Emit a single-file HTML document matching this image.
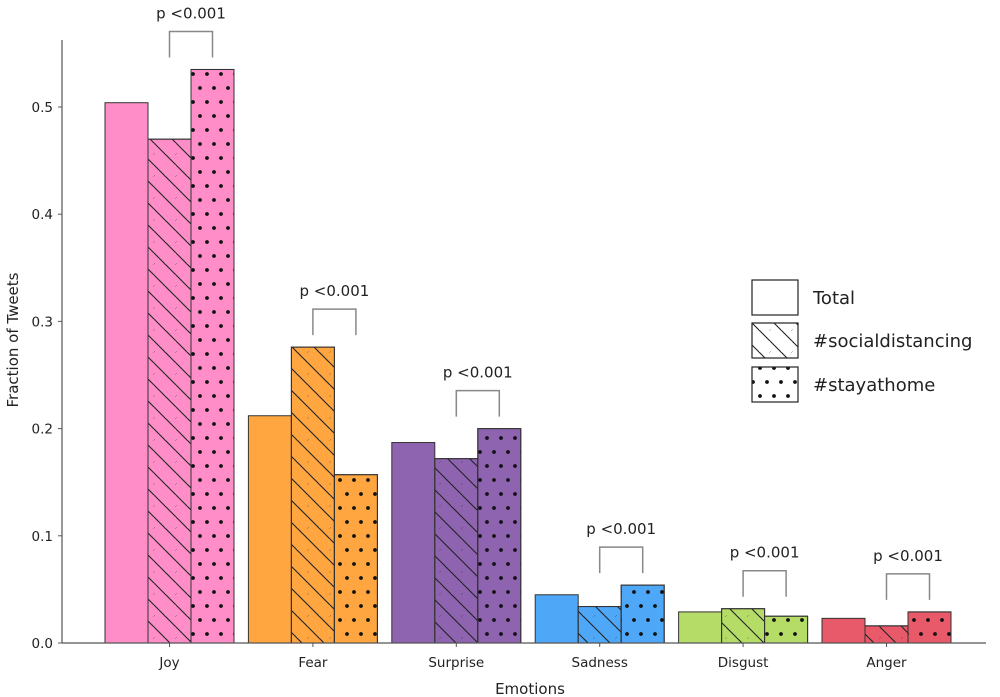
<!DOCTYPE html>
<html><head><meta charset="utf-8"><style>
body{margin:0;background:#fff}
svg{display:block;font-family:"DejaVu Sans","Liberation Sans",sans-serif}
</style></head><body>
<svg id="chart" width="1000" height="697" viewBox="0 0 1000 697">
<defs>
<pattern id="hatch" patternUnits="userSpaceOnUse" width="22" height="22">
<path d="M-11,0 L11,22 M0,-11 L22,11 M11,-11 L33,11 M-11,11 L11,33" stroke="#222" stroke-width="1.1"/>
</pattern>
<pattern id="dots" patternUnits="userSpaceOnUse" width="28" height="28">
<circle cx="4" cy="4" r="1.9" fill="#111"/><circle cx="18" cy="4" r="1.9" fill="#111"/>
<circle cx="11" cy="18" r="1.9" fill="#111"/><circle cx="25" cy="18" r="1.9" fill="#111"/>
</pattern>
</defs>
<g id="bars"></g>
<g id="axes"></g>
</svg>
<script>
const categories=["Joy","Fear","Surprise","Sadness","Disgust","Anger"];
const colors=["#ff8ec8","#ffa640","#8e63b0","#4ea8f7","#b5dc67","#e8596a"];
const totalValues=[0.504,0.212,0.187,0.045,0.029,0.023];
const socialValues=[0.470,0.276,0.172,0.034,0.032,0.016];
const stayValues=[0.535,0.157,0.200,0.054,0.025,0.029];
const yTicks=[0.0,0.1,0.2,0.3,0.4,0.5];
const seriesNames=["Total","#socialdistancing","#stayathome"];
const pLabel="p <0.001";

const NS="http://www.w3.org/2000/svg";
const y0=643, yScale=1072, bw=43;
const Y=v=>y0-v*yScale;
const X=i=>148+i*143.4;
function mk(tag,attrs,parent,text){const e=document.createElementNS(NS,tag);for(const k in attrs)e.setAttribute(k,attrs[k]);if(text!==undefined)e.textContent=text;parent.appendChild(e);return e;}
const bars=document.getElementById('bars'), axes=document.getElementById('axes');
const series=[totalValues,socialValues,stayValues];
const fills=[null,"url(#hatch)","url(#dots)"];
categories.forEach((c,i)=>{
  series.forEach((s,j)=>{
    const x=X(i)-bw+j*bw, y=Y(s[i]), h=y0-y;
    const r=mk('rect',{x:x,y:y,width:bw,height:h,fill:colors[i],stroke:"#333","stroke-width":1},bars);
    
    
    if(fills[j]){const o=mk('rect',{x:x,y:y,width:bw,height:h,fill:fills[j],stroke:"#333","stroke-width":1},bars);
      
      }
  });
  const top=Math.min(Y(socialValues[i]),Y(stayValues[i]));
  const xl=X(i)+bw*0.5, xr=X(i)+bw*1.5;
  const br=mk('path',{d:`M${xl},${top-12} V${top-38} H${xr} V${top-12}`,fill:"none",stroke:"#888","stroke-width":1.5},bars);
  
  
  const t=mk('text',{x:(xl+xr)/2,y:top-51,"text-anchor":"middle","font-size":15,fill:"#222"},bars,pLabel);
  
  
  const cx=X(i)+bw*0.5;
  const tk=mk('line',{x1:cx,x2:cx,y1:y0,y2:y0+4,stroke:"#555"},axes);
  
  
  const tl=mk('text',{x:cx,y:667,"text-anchor":"middle","font-size":13.5,fill:"#222"},axes,c);
  
  
});
yTicks.forEach(v=>{
  const l=mk('line',{x1:58,x2:62,y1:Y(v),y2:Y(v),stroke:"#555"},axes);
  
  
  const t=mk('text',{x:53,y:Y(v)+5,"text-anchor":"end","font-size":13.5,fill:"#222"},axes,v.toFixed(1));
  
  
});
const ya=mk('line',{x1:62,x2:62,y1:40,y2:y0,stroke:"#555","stroke-width":1.2},axes);


const xa=mk('line',{x1:62,x2:986,y1:y0,y2:y0,stroke:"#555","stroke-width":1.2},axes);


const xt=mk('text',{x:530,y:694,"text-anchor":"middle","font-size":15,fill:"#222"},axes,"Emotions");


const yt=mk('text',{x:18,y:340,"text-anchor":"middle","font-size":15,fill:"#222",transform:"rotate(-90 18 340)"},axes,"Fraction of Tweets");


const lgY=[280,323,367];
seriesNames.forEach((n,j)=>{
  const b=mk('rect',{x:752,y:lgY[j],width:46,height:35,fill:fills[j]||"#fff",stroke:"#222","stroke-width":1.2},axes);
  
  
  const t=mk('text',{x:813,y:lgY[j]+24,"font-size":18,fill:"#222"},axes,n);
  
  
});
</script>
</body></html>
